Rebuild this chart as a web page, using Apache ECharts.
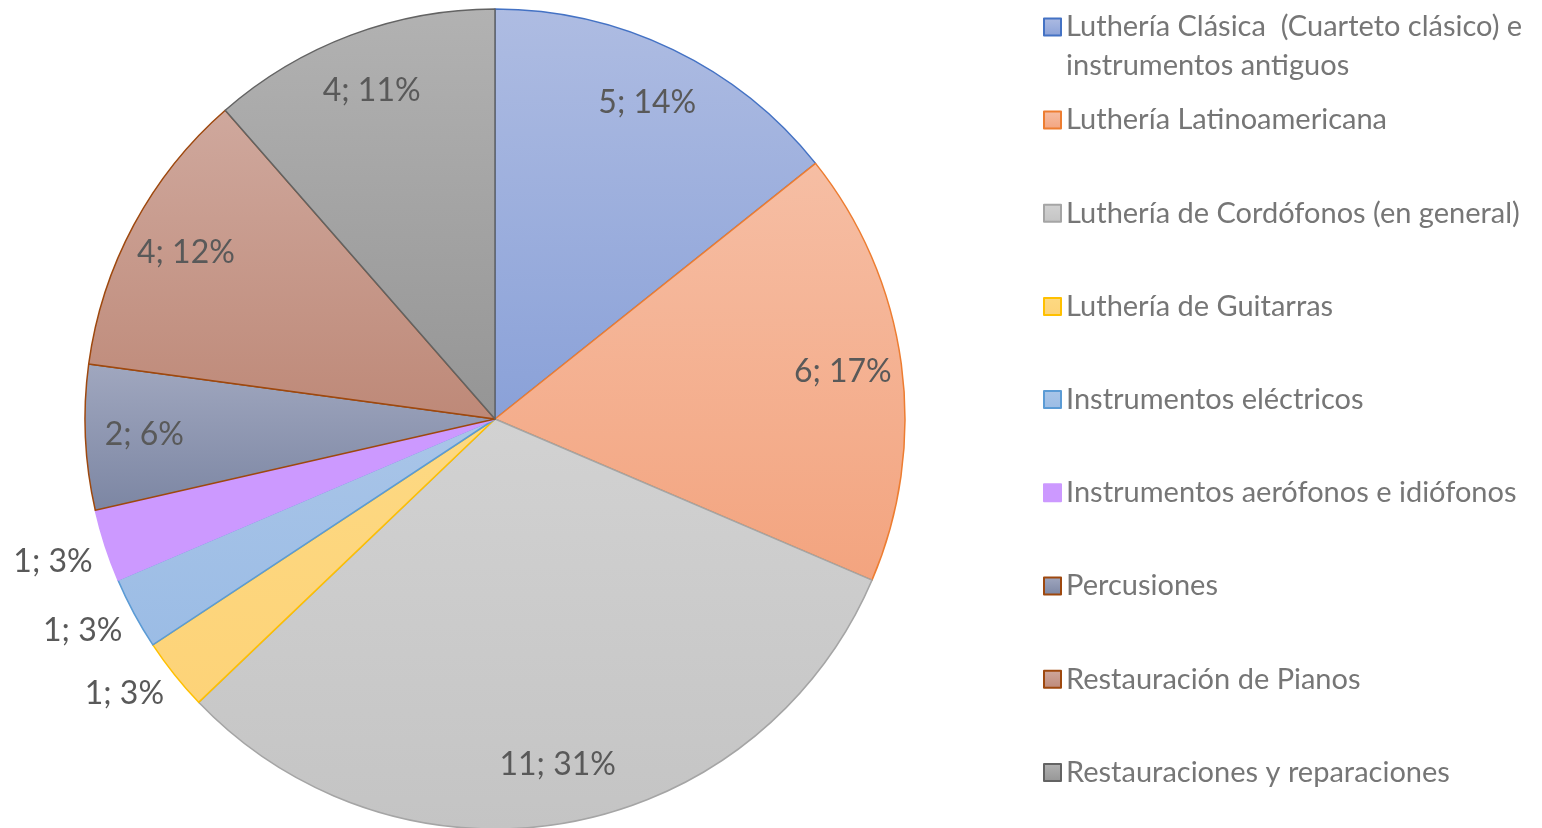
<!DOCTYPE html>
<html>
<head>
<meta charset="utf-8">
<script src="https://cdn.jsdelivr.net/npm/echarts@6/dist/echarts.min.js"></script>
<style>
  html, body { margin: 0; padding: 0; background: #fff; }
  #main { width: 1542px; height: 828px; }
</style>
</head>
<body>
<div id="main"></div>
<script>
// datos
var categorias = [
  'Luthería Clásica  (Cuarteto clásico) e instrumentos antiguos',
  'Luthería Latinoamericana',
  'Luthería de Cordófonos (en general)',
  'Luthería de Guitarras',
  'Instrumentos eléctricos',
  'Instrumentos aerófonos e idiófonos',
  'Percusiones',
  'Restauración de Pianos',
  'Restauraciones y reparaciones'
];
var valores = [5, 6, 11, 1, 1, 1, 2, 4, 4];
var porcentajes = [14, 17, 31, 3, 3, 3, 6, 12, 11];

var myChart = echarts.init(document.getElementById('main'));

// relleno degradado (arriba, abajo) y borde de cada sector
var rellenos = [
  ['#aebce2', '#8aa1d8'],
  ['#f6bea4', '#f3a47f'],
  ['#d2d2d2', '#c4c4c4'],
  ['#fdd983', '#fdd378'],
  ['#a9c5e8', '#9bbce5'],
  ['#cc99ff', '#cc99ff'],
  ['#a0a7bf', '#7c86a3'],
  ['#cfa89d', '#be8978'],
  ['#b2b2b2', '#959595']
];
var bordes = ['#4472c4', '#ed7d31', '#a5a5a5', '#ffc000', '#5b9bd5', '#cc99ff', '#9e480e', '#9e480e', '#636363'];

var total = valores.reduce(function (a, b) { return a + b; }, 0);
var fuente = 'Lato';

function texto(i) {
  return valores[i] + '; ' + porcentajes[i] + '%';
}

var datos = categorias.map(function (nombre, i) {
  var pequeno = valores[i] / total < 0.04;
  return {
    name: nombre,
    value: valores[i],
    itemStyle: {
      color: new echarts.graphic.LinearGradient(0, 0, 0, 1, [
        {offset: 0, color: rellenos[i][0]},
        {offset: 1, color: rellenos[i][1]}
      ]),
      borderColor: bordes[i],
      borderWidth: 1.5
    },
    label: {show: pequeno}
  };
});

// serie invisible solo para colocar las etiquetas interiores cerca del borde
var datosEtiquetas = categorias.map(function (nombre, i) {
  return {
    name: nombre,
    value: valores[i],
    label: {show: valores[i] / total >= 0.04}
  };
});

var leyendaTexto = {
  fontFamily: fuente,
  fontSize: 29,
  color: '#767676',
  lineHeight: 39
};

option = {
  backgroundColor: '#ffffff',
  animation: false,
  legend: [
    {
      data: [categorias[0]],
      orient: 'vertical',
      left: 1043,
      top: 27 - 58.5,
      padding: 0,
      itemWidth: 17,
      itemHeight: 17,
      icon: 'rect',
      formatter: function (n) {
        return '\n' + n.replace(') e ', ') e\n');
      },
      textStyle: leyendaTexto
    },
    {
      data: categorias.slice(1),
      orient: 'vertical',
      left: 1043,
      top: 120 - 19.5,
      padding: 0,
      itemGap: 54.2,
      itemWidth: 17,
      itemHeight: 17,
      icon: 'rect',
      textStyle: leyendaTexto
    }
  ],
  series: [
    {
      type: 'pie',
      center: [495, 419],
      radius: [0, 410],
      startAngle: 90,
      clockwise: true,
      avoidLabelOverlap: false,
      silent: true,
      label: {
        position: 'outside',
        formatter: function (p) { return texto(p.dataIndex); },
        fontFamily: fuente,
        fontSize: 32,
        color: '#595959',
        offset: [4, 12]
      },
      labelLine: {show: false, length: 12, length2: 0},
      data: datos
    },
    {
      type: 'pie',
      center: [495, 419],
      radius: [286, 410],
      startAngle: 90,
      clockwise: true,
      avoidLabelOverlap: false,
      silent: true,
      legendHoverLink: false,
      itemStyle: {color: 'rgba(0,0,0,0)', borderWidth: 0},
      label: {
        position: 'inside',
        formatter: function (p) { return texto(p.dataIndex); },
        fontFamily: fuente,
        fontSize: 32,
        color: '#595959'
      },
      labelLine: {show: false},
      data: datosEtiquetas
    }
  ]
};

myChart.setOption(option);
</script>
</body>
</html>
